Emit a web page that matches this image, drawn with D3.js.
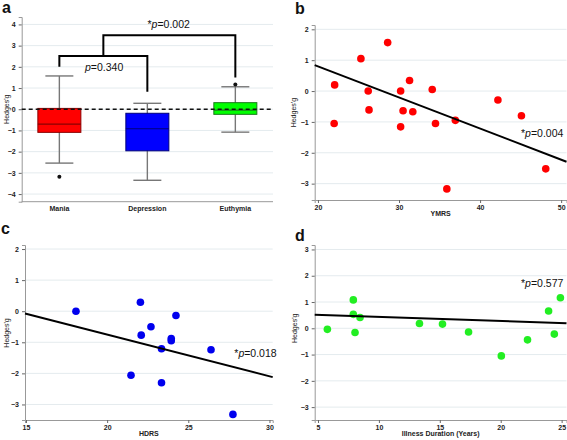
<!DOCTYPE html>
<html><head><meta charset="utf-8">
<script src="https://cdn.jsdelivr.net/npm/d3@7"></script>
<style>
body{margin:0;background:#fff;}
svg{display:block;font-family:"Liberation Sans",Arial,sans-serif;}
.tick text{font-size:7px;font-weight:bold;fill:#222;}
</style></head><body>
<svg id="c" width="567" height="440"></svg>
<script>
// ---------- data ----------
const groups = ["Mania","Depression","Euthymia"];
const boxQ3 = [0.04,-0.19,0.31];
const boxQ1 = [-1.09,-1.96,-0.24];
const boxMedian = [-0.70,-0.92,-0.04];
const whiskerHigh = [1.57,0.28,1.06];
const whiskerLow = [-2.54,-3.35,-1.08];
const outliers = [["Mania",-3.18],["Euthymia",1.17]];
const aTicks = [-4,-3,-2,-1,0,1,2,3,4];

const ymrsX = [22.06,22.0,25.3,26.2,26.3,28.6,30.2,30.2,30.5,31.3,31.7,34.1,34.5,35.9,36.95,42.2,45.1,48.1];
const ymrsY = [0.2,-1.05,1.05,0,-0.61,1.57,0,-1.16,-0.64,0.34,-0.67,0.05,-1.05,-3.17,-0.95,-0.29,-0.8,-2.52];
const fitB = [[19.6,0.84],[50.66,-2.29]];

const hdrsX = [18.08,22.05,24.24,22.7,22.1,23.95,23.95,23.35,26.4,21.47,23.35,27.75];
const hdrsY = [0,0.29,-0.14,-0.5,-0.77,-0.88,-0.95,-1.21,-1.24,-2.06,-2.3,-3.32];
const fitC = [[14.94,-0.075],[30.2,-2.12]];

const durX = [5.77,7.9,7.9,8.45,8.04,13.33,15.22,17.36,20.05,22.2,23.93,24.4,24.9];
const durY = [-0.04,1.08,0.53,0.41,-0.16,0.18,0.16,-0.14,-1.05,-0.44,0.66,-0.22,1.16];
const fitD = [[4.73,0.52],[25.4,0.19]];

const boxFill = ["#ff0000","#0000ff","#00ff00"];
const boxStroke = ["#8a0000","#00007a","#1a7a1a"];

const svg = d3.select("#c");
const gridCol = "#e4ebee", axisCol = "#999";

function yAxis(g, y, ticks, x0, x1){
  g.append("g").selectAll("line").data(ticks).join("line")
    .attr("x1",x0).attr("x2",x1).attr("y1",d=>y(d)).attr("y2",d=>y(d))
    .attr("stroke",gridCol).attr("stroke-width",1);
  const ax = g.append("g").attr("transform",`translate(${x0},0)`)
    .call(d3.axisLeft(y).tickValues(ticks).tickSize(3).tickPadding(3).tickFormat(d3.format("d")));
  ax.select(".domain").attr("stroke",axisCol);
  ax.selectAll(".tick line").attr("stroke","#666");
}
function xAxisLin(g, x, ticks, yPos){
  const ax = g.append("g").attr("transform",`translate(0,${yPos})`)
    .call(d3.axisBottom(x).tickValues(ticks).tickSize(3).tickPadding(2).tickFormat(d3.format("d")));
  ax.select(".domain").attr("stroke",axisCol);
  ax.selectAll(".tick line").attr("stroke","#666");
}
function panelLetter(t,x,y){
  svg.append("text").attr("x",x).attr("y",y).text(t)
    .attr("font-size",16).attr("font-weight","bold").attr("fill","#111");
}
function ylabel(x,y){
  svg.append("text").attr("transform",`translate(${x},${y}) rotate(-90)`)
    .attr("text-anchor","middle").attr("font-size",7).attr("fill","#222").text("Hedges'g");
}
function pText(x,y,star,val,anchor){
  const t = svg.append("text").attr("x",x).attr("y",y).attr("font-size",10.5)
    .attr("text-anchor",anchor||"start").attr("fill","#111");
  if(star) t.append("tspan").text("*");
  t.append("tspan").attr("font-style","italic").text("p");
  t.append("tspan").text("="+val);
}

// ---------- panel a ----------
{
  const g = svg.append("g");
  const x0=21.7, x1=273, yb=201.7, yt=17;
  const y = d3.scaleLinear().domain([-4.36,4.35]).range([yb,yt]);
  const x = d3.scalePoint().domain(groups).range([x0,x1]).padding(0.428);
  yAxis(g,y,aTicks,x0,x1);
  g.append("line").attr("x1",x0).attr("x2",x1).attr("y1",yb).attr("y2",yb).attr("stroke",axisCol);
  g.append("g").selectAll("text").data(groups).join("text")
    .attr("x",d=>x(d)).attr("y",yb+9).attr("text-anchor","middle")
    .attr("font-size",7).attr("font-weight","bold").attr("fill","#222").text(d=>d);
  const bw=43, cw=28;
  groups.forEach((gname,i)=>{
    const cx=x(gname);
    g.append("line").attr("x1",cx).attr("x2",cx).attr("y1",y(whiskerHigh[i])).attr("y2",y(whiskerLow[i]))
      .attr("stroke","#777").attr("stroke-width",1.4);
    [whiskerHigh[i],whiskerLow[i]].forEach(v=>g.append("line").attr("x1",cx-cw/2).attr("x2",cx+cw/2)
      .attr("y1",y(v)).attr("y2",y(v)).attr("stroke","#777").attr("stroke-width",1.4));
    g.append("rect").attr("x",cx-bw/2).attr("width",bw).attr("y",y(boxQ3[i]))
      .attr("height",y(boxQ1[i])-y(boxQ3[i])).attr("fill",boxFill[i]).attr("stroke",boxStroke[i]).attr("stroke-width",1);
    g.append("line").attr("x1",cx-bw/2).attr("x2",cx+bw/2).attr("y1",y(boxMedian[i])).attr("y2",y(boxMedian[i]))
      .attr("stroke",boxStroke[i]).attr("stroke-width",1.2);
  });
  g.append("line").attr("x1",x0).attr("x2",x1).attr("y1",y(0)).attr("y2",y(0))
    .attr("stroke","#111").attr("stroke-width",1.5).attr("stroke-dasharray","4,3");
  g.selectAll("circle.o").data(outliers).join("circle").attr("cx",d=>x(d[0])).attr("cy",d=>y(d[1]))
    .attr("r",2).attr("fill","#111");
  // brackets
  const mid = (x("Mania")+x("Depression"))/2;
  const line = d3.line();
  g.append("path").attr("d",line([[x("Mania"),y(2.0)],[x("Mania"),y(2.51)],[x("Depression"),y(2.51)],[x("Depression"),y(0.83)]]))
    .attr("fill","none").attr("stroke","#000").attr("stroke-width",2);
  g.append("path").attr("d",line([[mid,y(2.51)],[mid,y(3.49)],[x("Euthymia"),y(3.49)],[x("Euthymia"),y(1.5)]]))
    .attr("fill","none").attr("stroke","#000").attr("stroke-width",2);
  pText(85,71,false,"0.340");
  pText(147.5,28,true,"0.002");
  ylabel(9,y(0));
  panelLetter("a",2,13);
}

function scatter(opts){
  const g = svg.append("g");
  const y = d3.scaleLinear().domain(opts.yd).range([opts.yb,opts.yt]);
  const x = d3.scaleLinear().domain(opts.xd).range([opts.x0,opts.x1]);
  yAxis(g,y,opts.yticks,opts.x0,opts.x1);
  xAxisLin(g,x,opts.xticks,opts.yb);
  g.append("g").selectAll("circle").data(opts.xs.map((v,i)=>[v,opts.ys[i]])).join("circle")
    .attr("cx",d=>x(d[0])).attr("cy",d=>y(d[1])).attr("r",3.8).attr("fill",opts.color);
  g.append("path").attr("d",d3.line().x(d=>x(d[0])).y(d=>y(d[1]))(opts.fit))
    .attr("stroke","#000").attr("stroke-width",2).attr("fill","none");
  g.append("text").attr("x",(opts.x0+opts.x1)/2).attr("y",opts.yb+16).attr("text-anchor","middle")
    .attr("font-size",7).attr("font-weight","bold").attr("fill","#222").text(opts.xlabel);
  return {x,y};
}

// ---------- panel b ----------
{
  const s = scatter({yd:[-3.53,2.14],yb:200,yt:25,xd:[19.6,50.66],x0:314.7,x1:566.5,
    yticks:[-3,-2,-1,0,1,2],xticks:[20,30,40,50],xs:ymrsX,ys:ymrsY,fit:fitB,color:"#ff0000",xlabel:"YMRS"});
  pText(521,137,true,"0.004");
  ylabel(296,s.y(-0.7));
  panelLetter("b",295,14);
}
// ---------- panel c ----------
{
  const s = scatter({yd:[-3.5,2.13],yb:420,yt:245,xd:[14.94,30.2],x0:25,x1:272.7,
    yticks:[-3,-2,-1,0,1,2],xticks:[15,20,25,30],xs:hdrsX,ys:hdrsY,fit:fitC,color:"#0000ee",xlabel:"HDRS"});
  pText(234.3,357,true,"0.018");
  ylabel(9,s.y(-0.7));
  panelLetter("c",1,234);
}
// ---------- panel d ----------
{
  const s = scatter({yd:[-3.49,3.17],yb:420,yt:245,xd:[4.73,25.4],x0:314.7,x1:566.5,
    yticks:[-3,-2,-1,0,1,2,3],xticks:[5,10,15,20,25],xs:durX,ys:durY,fit:fitD,color:"#22ee22",xlabel:"Illness Duration (Years)"});
  pText(521,287,true,"0.577");
  ylabel(297,s.y(0));
  panelLetter("d",295,241);
}
</script></body></html>
